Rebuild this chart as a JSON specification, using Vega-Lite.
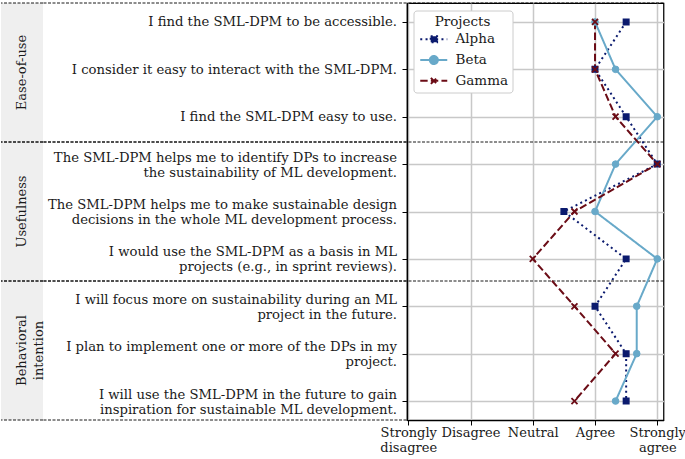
{
  "$schema": "https://vega.github.io/schema/vega-lite/v6.json",
  "padding": {"left": 0, "top": 1, "right": 0, "bottom": 0},
  "config": {
    "font": "DejaVu Serif",
    "view": {"stroke": null},
    "axis": {"labelFont": "DejaVu Serif", "labelColor": "#1a1a1a", "tickColor": "#000000", "domainColor": "#000000", "gridColor": "#c8c8c8", "gridWidth": 1.5},
    "text": {"font": "DejaVu Serif", "color": "#1a1a1a"},
    "legend": {
      "orient": "none", "legendX": 412.5, "legendY": 7.5, "fillColor": "#ffffff", "strokeColor": "#cccccc", "cornerRadius": 3, "padding": 4,
      "titleAnchor": "middle", "titleFont": "DejaVu Serif", "titleFontSize": 13.5, "titleFontWeight": "normal", "titleColor": "#1a1a1a",
      "labelFont": "DejaVu Serif", "labelFontSize": 13.5, "labelColor": "#1a1a1a",
      "symbolSize": 64, "symbolStrokeWidth": 2, "symbolOpacity": 1, "labelOffset": 24.5, "rowPadding": 4.8, "titlePadding": 4.5
    }
  },
  "datasets": {
    "groups": [
      {"group": "Ease-of-use"},
      {"group": "Usefulness"},
      {"group": "Behavioral|intention"}
    ],
    "responses": [
      {"project": "Alpha", "item": 1, "statement": "I find the SML-DPM to be accessible.", "score": 4.5},
      {"project": "Alpha", "item": 2, "statement": "I consider it easy to interact with the SML-DPM.", "score": 4.0},
      {"project": "Alpha", "item": 3, "statement": "I find the SML-DPM easy to use.", "score": 4.5},
      {"project": "Alpha", "item": 4, "statement": "The SML-DPM helps me to identify DPs to increase|the sustainability of ML development.", "score": 5.0},
      {"project": "Alpha", "item": 5, "statement": "The SML-DPM helps me to make sustainable design|decisions in the whole ML development process.", "score": 3.5},
      {"project": "Alpha", "item": 6, "statement": "I would use the SML-DPM as a basis in ML|projects (e.g., in sprint reviews).", "score": 4.5},
      {"project": "Alpha", "item": 7, "statement": "I will focus more on sustainability during an ML|project in the future.", "score": 4.0},
      {"project": "Alpha", "item": 8, "statement": "I plan to implement one or more of the DPs in my|project.", "score": 4.5},
      {"project": "Alpha", "item": 9, "statement": "I will use the SML-DPM in the future to gain|inspiration for sustainable ML development.", "score": 4.5},
      {"project": "Beta", "item": 1, "statement": "I find the SML-DPM to be accessible.", "score": 4.0},
      {"project": "Beta", "item": 2, "statement": "I consider it easy to interact with the SML-DPM.", "score": 4.33},
      {"project": "Beta", "item": 3, "statement": "I find the SML-DPM easy to use.", "score": 5.0},
      {"project": "Beta", "item": 4, "statement": "The SML-DPM helps me to identify DPs to increase|the sustainability of ML development.", "score": 4.33},
      {"project": "Beta", "item": 5, "statement": "The SML-DPM helps me to make sustainable design|decisions in the whole ML development process.", "score": 4.0},
      {"project": "Beta", "item": 6, "statement": "I would use the SML-DPM as a basis in ML|projects (e.g., in sprint reviews).", "score": 5.0},
      {"project": "Beta", "item": 7, "statement": "I will focus more on sustainability during an ML|project in the future.", "score": 4.67},
      {"project": "Beta", "item": 8, "statement": "I plan to implement one or more of the DPs in my|project.", "score": 4.67},
      {"project": "Beta", "item": 9, "statement": "I will use the SML-DPM in the future to gain|inspiration for sustainable ML development.", "score": 4.33},
      {"project": "Gamma", "item": 1, "statement": "I find the SML-DPM to be accessible.", "score": 4.0},
      {"project": "Gamma", "item": 2, "statement": "I consider it easy to interact with the SML-DPM.", "score": 4.0},
      {"project": "Gamma", "item": 3, "statement": "I find the SML-DPM easy to use.", "score": 4.33},
      {"project": "Gamma", "item": 4, "statement": "The SML-DPM helps me to identify DPs to increase|the sustainability of ML development.", "score": 5.0},
      {"project": "Gamma", "item": 5, "statement": "The SML-DPM helps me to make sustainable design|decisions in the whole ML development process.", "score": 3.67},
      {"project": "Gamma", "item": 6, "statement": "I would use the SML-DPM as a basis in ML|projects (e.g., in sprint reviews).", "score": 3.0},
      {"project": "Gamma", "item": 7, "statement": "I will focus more on sustainability during an ML|project in the future.", "score": 3.67},
      {"project": "Gamma", "item": 8, "statement": "I plan to implement one or more of the DPs in my|project.", "score": 4.33},
      {"project": "Gamma", "item": 9, "statement": "I will use the SML-DPM in the future to gain|inspiration for sustainable ML development.", "score": 3.67}
    ]
  },
  "spacing": 0,
  "bounds": "flush",
  "hconcat": [
    {
      "width": 42,
      "height": 417,
      "data": {"name": "groups"},
      "layer": [
        {"mark": {"type": "rect", "color": "#efefef"}, "encoding": {}},
        {
          "mark": {"type": "text", "angle": 270, "fontSize": 13, "lineBreak": "|", "lineHeight": 17, "align": "center", "baseline": "middle"},
          "encoding": {
            "y": {"field": "group", "type": "nominal", "sort": null, "axis": null, "scale": {"type": "band", "paddingInner": 0, "paddingOuter": 0}},
            "text": {"field": "group"}
          }
        },
        {
          "mark": {"type": "rule", "color": "#000000", "strokeWidth": 0.9, "strokeDash": [3, 1.5]},
          "encoding": {"y": {"field": "group", "type": "nominal", "sort": null, "bandPosition": 0, "axis": null, "scale": {"type": "band", "paddingInner": 0, "paddingOuter": 0}}}
        },
        {
          "mark": {"type": "rule", "color": "#000000", "strokeWidth": 0.9, "strokeDash": [3, 1.5]},
          "encoding": {"y": {"field": "group", "type": "nominal", "sort": null, "bandPosition": 1, "axis": null, "scale": {"type": "band", "paddingInner": 0, "paddingOuter": 0}}}
        }
      ]
    },
    {
      "width": 363.5,
      "height": 417,
      "data": {"name": "groups"},
      "layer": [
        {
          "mark": {"type": "rule", "color": "#000000", "strokeWidth": 0.9, "strokeDash": [3, 1.5]},
          "encoding": {"y": {"field": "group", "type": "nominal", "sort": null, "bandPosition": 0, "axis": null, "scale": {"type": "band", "paddingInner": 0, "paddingOuter": 0}}}
        },
        {
          "mark": {"type": "rule", "color": "#000000", "strokeWidth": 0.9, "strokeDash": [3, 1.5]},
          "encoding": {"y": {"field": "group", "type": "nominal", "sort": null, "bandPosition": 1, "axis": null, "scale": {"type": "band", "paddingInner": 0, "paddingOuter": 0}}}
        }
      ]
    },
    {
      "width": 256.5,
      "height": 417,
      "view": {"stroke": "#000000", "strokeWidth": 1.25},
      "resolve": {"scale": {"y": "independent"}},
      "layer": [
        {
          "data": {"name": "groups"},
          "mark": {"type": "rule", "color": "#000000", "strokeWidth": 0.9, "strokeDash": [3, 1.5]},
          "encoding": {"y": {"field": "group", "type": "nominal", "sort": null, "bandPosition": 0, "axis": null, "scale": {"type": "band", "paddingInner": 0, "paddingOuter": 0}}}
        },
        {
          "data": {"name": "responses"},
          "encoding": {
            "x": {
              "field": "score", "type": "quantitative",
              "scale": {"domain": [0.98, 5.1], "nice": false, "zero": false},
              "axis": {
                "values": [1, 2, 3, 4, 5], "title": null, "grid": true,
                "labelExpr": "datum.value == 1 ? ['Strongly','disagree'] : datum.value == 2 ? 'Disagree' : datum.value == 3 ? 'Neutral' : datum.value == 4 ? 'Agree' : ['Strongly','agree']",
                "labelFontSize": 13, "labelLineHeight": 15, "labelOverlap": false, "labelFlush": false, "labelBound": false,
                "tickSize": 5, "labelPadding": 1.5, "domainWidth": 1.25, "labelAngle": 0
              }
            },
            "y": {
              "field": "statement", "type": "nominal", "sort": null,
              "scale": {"type": "point", "padding": 0.4},
              "axis": {
                "title": null, "grid": true, "labelExpr": "split(datum.label, '|')",
                "labelOffset": {"condition": {"test": "indexof(datum.label, '|') >= 0", "value": -7}, "value": 0},
                "labelFontSize": 13.2, "labelLineHeight": 15, "labelLimit": 500, "tickSize": 5, "labelPadding": 5.5, "domainWidth": 1.25
              }
            },
            "stroke": {
              "field": "project", "type": "nominal", "title": "Projects",
              "scale": {"domain": ["Alpha", "Beta", "Gamma"], "range": ["#0b1a6e", "#68a9c9", "#6b0c16"]}
            }
          },
          "layer": [
            {
              "mark": {"type": "line", "strokeWidth": 2, "strokeCap": "butt"},
              "encoding": {
                "order": {"field": "item", "type": "quantitative"},
                "strokeDash": {
                  "field": "project", "type": "nominal", "title": "Projects",
                  "scale": {"domain": ["Alpha", "Beta", "Gamma"], "range": [[2, 3.3], [1, 0], [7.4, 3.2]]}
                }
              }
            },
            {
              "mark": {"type": "point", "filled": true, "size": 64, "strokeWidth": 2, "opacity": 0},
              "encoding": {
                "fill": {
                  "field": "project", "type": "nominal", "title": "Projects",
                  "scale": {"domain": ["Alpha", "Beta", "Gamma"], "range": ["#0b1a6e", "#68a9c9", "#6b0c16"]}
                },
                "strokeDash": {"field": "project", "type": "nominal", "title": "Projects"},
                "shape": {
                  "field": "project", "type": "nominal", "title": "Projects",
                  "scale": {"domain": ["Alpha", "Beta", "Gamma"], "range": ["M-1,0H5.75M1.61,-0.75H3.21V0.75H1.61Z", "M-1,0H5.75M3.41,0A1,1 0 1,1 1.41,0A1,1 0 1,1 3.41,0Z", "M-1,0H5.75M1.66,-0.75L3.16,0.75M1.66,0.75L3.16,-0.75"]}
                }
              }
            },
            {
              "transform": [{"filter": "datum.project === 'Alpha'"}],
              "mark": {"type": "point", "shape": "square", "filled": true, "size": 30, "strokeWidth": 1.5, "opacity": 1},
              "encoding": {"fill": {"field": "project", "type": "nominal", "title": "Projects"}}
            },
            {
              "transform": [{"filter": "datum.project === 'Beta'"}],
              "mark": {"type": "point", "shape": "circle", "filled": true, "size": 44, "strokeWidth": 1, "opacity": 1},
              "encoding": {"fill": {"field": "project", "type": "nominal", "title": "Projects"}}
            },
            {
              "transform": [{"filter": "datum.project === 'Gamma'"}],
              "mark": {"type": "point", "shape": "M-1,-1L1,1M-1,1L1,-1", "filled": true, "size": 36, "strokeWidth": 1.8, "opacity": 1},
              "encoding": {"fill": {"field": "project", "type": "nominal", "title": "Projects"}}
            }
          ]
        }
      ]
    }
  ]
}
